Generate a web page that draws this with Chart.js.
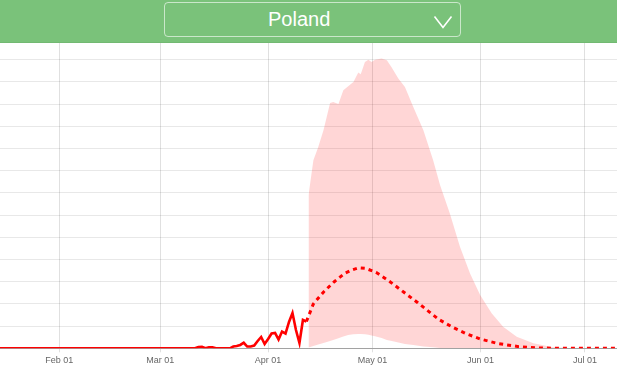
<!DOCTYPE html>
<html>
<head>
<meta charset="utf-8">
<script src="https://cdn.jsdelivr.net/npm/chart.js@4.4.1/dist/chart.umd.min.js"></script>
<style>
  body { margin: 0; background: #fff; font-family: "Liberation Sans", Arial, sans-serif; }
  #wrap { position: relative; width: 617px; height: 370px; overflow: hidden; }
  #chart { position: absolute; left: 0; top: 0; }
  #header {
    position: absolute; left: 0; top: 0; width: 617px; height: 42px;
    background: #7ac27a; border-bottom: 1px solid #72b972; z-index: 2;
  }
  #select {
    position: absolute; left: 164px; top: 2px; width: 295px; height: 33px;
    border: 1px solid rgba(255,255,255,0.6); border-radius: 4px;
  }
  #select span {
    position: absolute; left: 103px; top: 5px; color: #fff; font-size: 20px;
  }
  #select svg { position: absolute; left: 268px; top: 12px; }
</style>
</head>
<body>
<div id="wrap">
  <div id="header">
    <div id="select">
      <span>Poland</span>
      <svg width="20" height="14" viewBox="0 0 20 14"><polyline points="1.5,1.5 10,12.5 18.5,1.5" fill="none" stroke="#fff" stroke-width="1.6"/></svg>
    </div>
  </div>
  <canvas id="chart" width="617" height="370"></canvas>
</div>
<script>
// days are counted from Jan 01 (day 0)
const tickDays = [31, 60, 91, 121, 152, 182];
const tickLabels = ["Feb 01", "Mar 01", "Apr 01", "May 01", "Jun 01", "Jul 01"];

// reported daily values (solid line)
const actualDays = [14, 70, 71, 72, 73, 74, 75, 76, 80, 81, 82, 83, 84, 85, 86, 87, 88, 89, 90,
  91, 92, 93, 94, 95, 96, 97, 98, 99, 100, 101, 102];
const actualValues = [0, 0, 1.2, 1.3, 0, 0.9, 0.9, 0, 0, 1.6, 2.0, 3.0, 5.0, 1.6, 1.6, 2.5, 6.6, 10.2, 3.9,
  8.4, 13.3, 13.8, 7.9, 15.1, 13.3, 23.7, 31.8, 16.5, 4.8, 25.5, 24.1];

// forecast (dotted line)
const forecastDays = [102, 104, 107, 110, 113, 115, 117, 119, 122, 126, 130, 134, 137, 140, 144,
  148, 152, 157, 163, 169, 175, 185, 192];
const forecastValues = [24.1, 40, 51, 60, 67.5, 70.5, 72.5, 72, 68.5, 60, 50.5, 41, 33.5, 26, 19,
  13, 8.3, 4.3, 1.5, 0.3, 0, 0, 0];

// forecast range (shaded band)
const bandDays = [102.6, 104.0, 105.4, 106.9, 108.8, 109.7, 111.2, 112.6, 114.0, 115.5, 116.9, 117.6,
  118.8, 119.8, 120.7, 121.7, 123.6, 125.1, 126.5, 128.4, 130.3, 132.7, 135.6, 138.4, 140.4, 143.2,
  146.1, 149.0, 151.9, 155.2, 158.5, 162.4, 167.2, 172.8, 179.1, 192];
const bandHigh = [138, 169.5, 181.4, 196.5, 221, 222, 220, 232.5, 236, 240, 248.4, 247,
  258, 260, 258, 260, 261, 259.5, 253, 243, 235.4, 217.4, 196.5, 169.5, 147, 121.5,
  91.4, 67.5, 48, 31.5, 19.4, 10.4, 4.5, 0.9, 0, 0];
const bandLow = [0.7, 2.1, 3.4, 4.8, 6.6, 7.5, 9, 10.6, 12, 12.6, 12.9, 12.9,
  12.7, 12.2, 11.5, 10.8, 9.3, 7.5, 6.6, 5.2, 3.9, 3, 1.6, 1, 0.3, 0,
  0, 0, 0, 0, 0, 0, 0, 0, 0, 0];

function pts(xs, ys) {
  return xs.map((x, i) => ({ x: x, y: ys[i] }));
}

new Chart(document.getElementById("chart"), {
  type: 'line',
  data: {
    datasets: [
      {
        data: pts(bandDays, bandLow),
        borderWidth: 0,
        pointRadius: 0,
        fill: false
      },
      {
        data: pts(bandDays, bandHigh),
        borderWidth: 0,
        pointRadius: 0,
        backgroundColor: "rgba(255,0,0,0.16)",
        fill: '-1'
      },
      {
        data: pts(actualDays, actualValues),
        borderColor: "#ff0000",
        borderWidth: 2.6,
        pointRadius: 0,
        fill: false
      },
      {
        data: pts(forecastDays, forecastValues),
        borderColor: "#ff0000",
        borderWidth: 3,
        borderDash: [4, 4],
        pointRadius: 0,
        fill: false
      }
    ]
  },
  options: {
    responsive: false,
    animation: false,
    layout: { padding: 0 },
    plugins: { legend: { display: false }, tooltip: { enabled: false } },
    scales: {
      x: {
        type: 'linear',
        min: 14,
        max: 191.2,
        afterBuildTicks: function (scale) {
          scale.ticks = tickDays.map(d => ({ value: d }));
        },
        afterFit: function (scale) { scale.height = 21.7; },
        ticks: {
          autoSkip: false,
          maxRotation: 0,
          color: "#666",
          font: { family: "Liberation Sans", size: 9 },
          callback: function (v) { return tickLabels[tickDays.indexOf(v)]; }
        },
        grid: { color: "rgba(0,0,0,0.12)", tickLength: 4 },
        border: { color: "rgba(0,0,0,0.3)" }
      },
      y: {
        min: 0,
        max: 313.8,
        afterFit: function (scale) { scale.width = 0; },
        ticks: { display: false, stepSize: 20 },
        grid: { color: "rgba(0,0,0,0.09)", drawTicks: false },
        border: { display: false }
      }
    }
  }
});
</script>
</body>
</html>
